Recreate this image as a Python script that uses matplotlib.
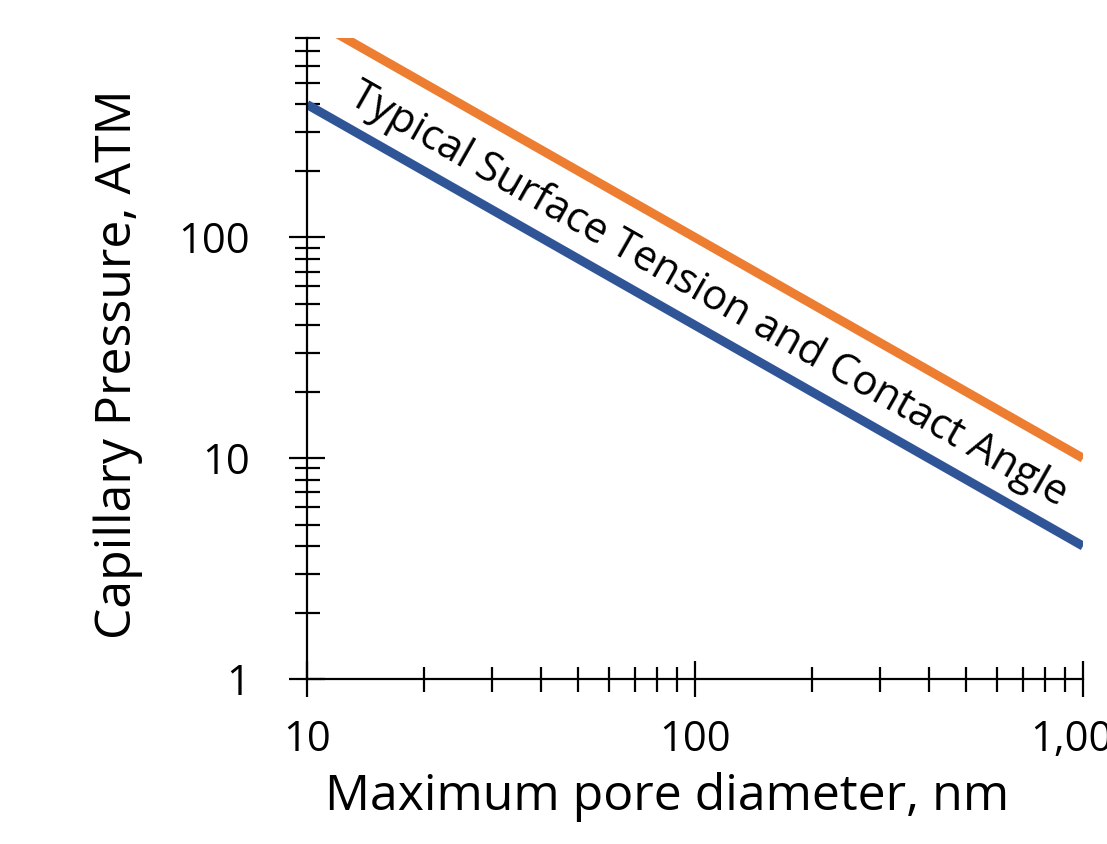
import matplotlib
matplotlib.use("Agg")
import matplotlib.pyplot as plt
from matplotlib.ticker import LogLocator, FixedLocator, NullFormatter, FixedFormatter

diameter_nm = [10, 20, 50, 100, 200, 500, 1000]
pressure_blue = [400, 200, 80, 40, 20, 8, 4]
pressure_orange = [1000, 500, 200, 100, 50, 20, 10]
y_tick_values = [1, 10, 100]
y_tick_labels = ["1", "10", "100"]
x_tick_values = [10, 100, 1000]
x_tick_labels = ["10", "100", "1,000"]
annotation = "Typical Surface Tension and Contact Angle"

plt.rcParams['font.family'] = ['Open Sans', 'DejaVu Sans']

fig = plt.figure(figsize=(11.07, 8.44), dpi=100)
ax = fig.add_axes([307/1107, 1-679/844, (1083-307)/1107, (679-38)/844])

ax.plot(diameter_nm, pressure_orange, color="#ED7D31", lw=6.5, solid_capstyle="butt")
ax.plot(diameter_nm, pressure_blue, color="#2F5597", lw=6.5, solid_capstyle="butt")

ax.set_xscale("log")
ax.set_yscale("log")
ax.set_xlim(10, 1000)
ax.set_ylim(1, 800)

for s in ["top", "right"]:
    ax.spines[s].set_visible(False)
for s in ["left", "bottom"]:
    ax.spines[s].set_linewidth(1.6)
    ax.spines[s].set_color("black")

ax.xaxis.set_major_locator(FixedLocator(x_tick_values))
ax.xaxis.set_major_formatter(FixedFormatter(x_tick_labels))
ax.yaxis.set_major_locator(FixedLocator(y_tick_values))
ax.yaxis.set_major_formatter(FixedFormatter(y_tick_labels))
ax.xaxis.set_minor_locator(LogLocator(base=10, subs=range(2, 10), numticks=20))
ax.yaxis.set_minor_locator(LogLocator(base=10, subs=range(2, 10), numticks=20))
ax.xaxis.set_minor_formatter(NullFormatter())
ax.yaxis.set_minor_formatter(NullFormatter())

ax.tick_params(which="major", direction="inout", length=26, width=1.6, labelsize=30, color="black")
ax.tick_params(which="minor", direction="inout", length=18, width=1.6, color="black")
ax.tick_params(axis="y", which="major", pad=28)
ax.tick_params(axis="x", which="major", pad=16)

ax.set_xlabel("Maximum pore diameter, nm", fontsize=36)
ax.xaxis.label.set_verticalalignment("baseline")
ax.xaxis.set_label_coords(0.464, -0.2044)
ax.set_ylabel("Capillary Pressure, ATM", fontsize=36)
ax.yaxis.label.set_verticalalignment("center")
ax.yaxis.set_label_coords(-0.2436, 0.491)

ax.text(108, 55, annotation, fontsize=30, rotation=-29.6, rotation_mode="anchor",
        ha="center", va="center")

fig.savefig("out.png", dpi=100)
